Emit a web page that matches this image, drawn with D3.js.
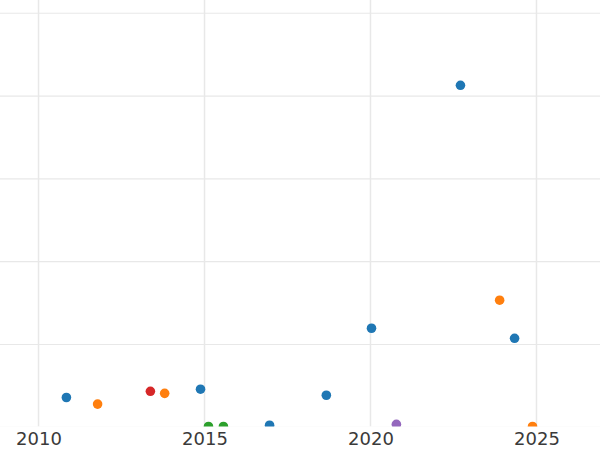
<!DOCTYPE html>
<html>
<head>
<meta charset="utf-8">
<script src="https://cdn.jsdelivr.net/npm/d3@7.9.0/dist/d3.min.js"></script>
<style>
  body { margin: 0; background: #fff; }
  svg { display: block; font-family: "DejaVu Sans", sans-serif; }
  .grid line { stroke: #e8e8e8; }
  .xaxis text { fill: #3a3a3a; }
</style>
</head>
<body>
<div id="chart"></div>
<script>
/* ---------- data --------- */
const years  = [2010.84, 2011.78, 2013.37, 2013.80, 2014.88, 2015.12, 2015.57, 2016.96,
                2018.67, 2020.03, 2020.78, 2022.71, 2023.89, 2024.34, 2024.88];
const values = [36, 28, 43.5, 41, 46, 1, 1, 2.5, 38.7, 119.6, 3.6, 413, 153.5, 107.5, 1];
const groups = ['A', 'B', 'D', 'B', 'A', 'C', 'C', 'A', 'A', 'A', 'E', 'A', 'B', 'A', 'B'];
const groupNames = ['A', 'B', 'C', 'D', 'E'];
const xTicks = [2010, 2015, 2020, 2025];
const yTicks = [0, 100, 200, 300, 400, 500];

const points = years.map((y, i) => ({ year: y, value: values[i], group: groups[i] }));

/* ---------- layout --------- */
const W = 600, H = 450;
const plot = { l: 0, r: 600, t: 0, b: 426.5 };

const svg = d3.select('#chart').append('svg')
  .attr('width', W).attr('height', H);

const xScale = d3.scaleLinear().domain([2008.84, 2026.913]).range([plot.l, plot.r]);
const yScale = d3.scaleLinear().domain([0, 516]).range([427.3, 0]);
const color = d3.scaleOrdinal().domain(groupNames).range(d3.schemeCategory10.slice(0, 5));

svg.append('defs').append('clipPath').attr('id', 'clip')
  .append('rect')
  .attr('x', plot.l).attr('y', plot.t)
  .attr('width', plot.r - plot.l).attr('height', plot.b - plot.t);

/* ---------- gridlines --------- */
const grid = svg.append('g').attr('class', 'grid').attr('clip-path', 'url(#clip)');

grid.selectAll('line.h').data(yTicks).join('line')
  .attr('class', 'h')
  .attr('x1', plot.l).attr('x2', plot.r)
  .attr('y1', d => yScale(d)).attr('y2', d => yScale(d))
  .attr('stroke-width', 1.2);

grid.selectAll('line.v').data(xTicks).join('line')
  .attr('class', 'v')
  .attr('x1', d => xScale(d)).attr('x2', d => xScale(d))
  .attr('y1', plot.t).attr('y2', plot.b)
  .attr('stroke-width', 1.5);

/* ---------- x axis labels --------- */
svg.append('g').attr('class', 'xaxis')
  .attr('transform', `translate(0,${plot.b})`)
  .call(d3.axisBottom(xScale).tickValues(xTicks).tickFormat(d3.format('d')).tickSize(0).tickPadding(6))
  .call(g => g.select('.domain').remove())
  .selectAll('text').attr('font-family', 'DejaVu Sans, sans-serif').attr('font-size', 18);

/* ---------- points --------- */
svg.append('g').attr('clip-path', 'url(#clip)')
  .selectAll('circle').data(points).join('circle')
  .attr('cx', d => xScale(d.year))
  .attr('cy', d => yScale(d.value))
  .attr('r', 4.8)
  .attr('fill', d => color(d.group));
</script>
</body>
</html>
